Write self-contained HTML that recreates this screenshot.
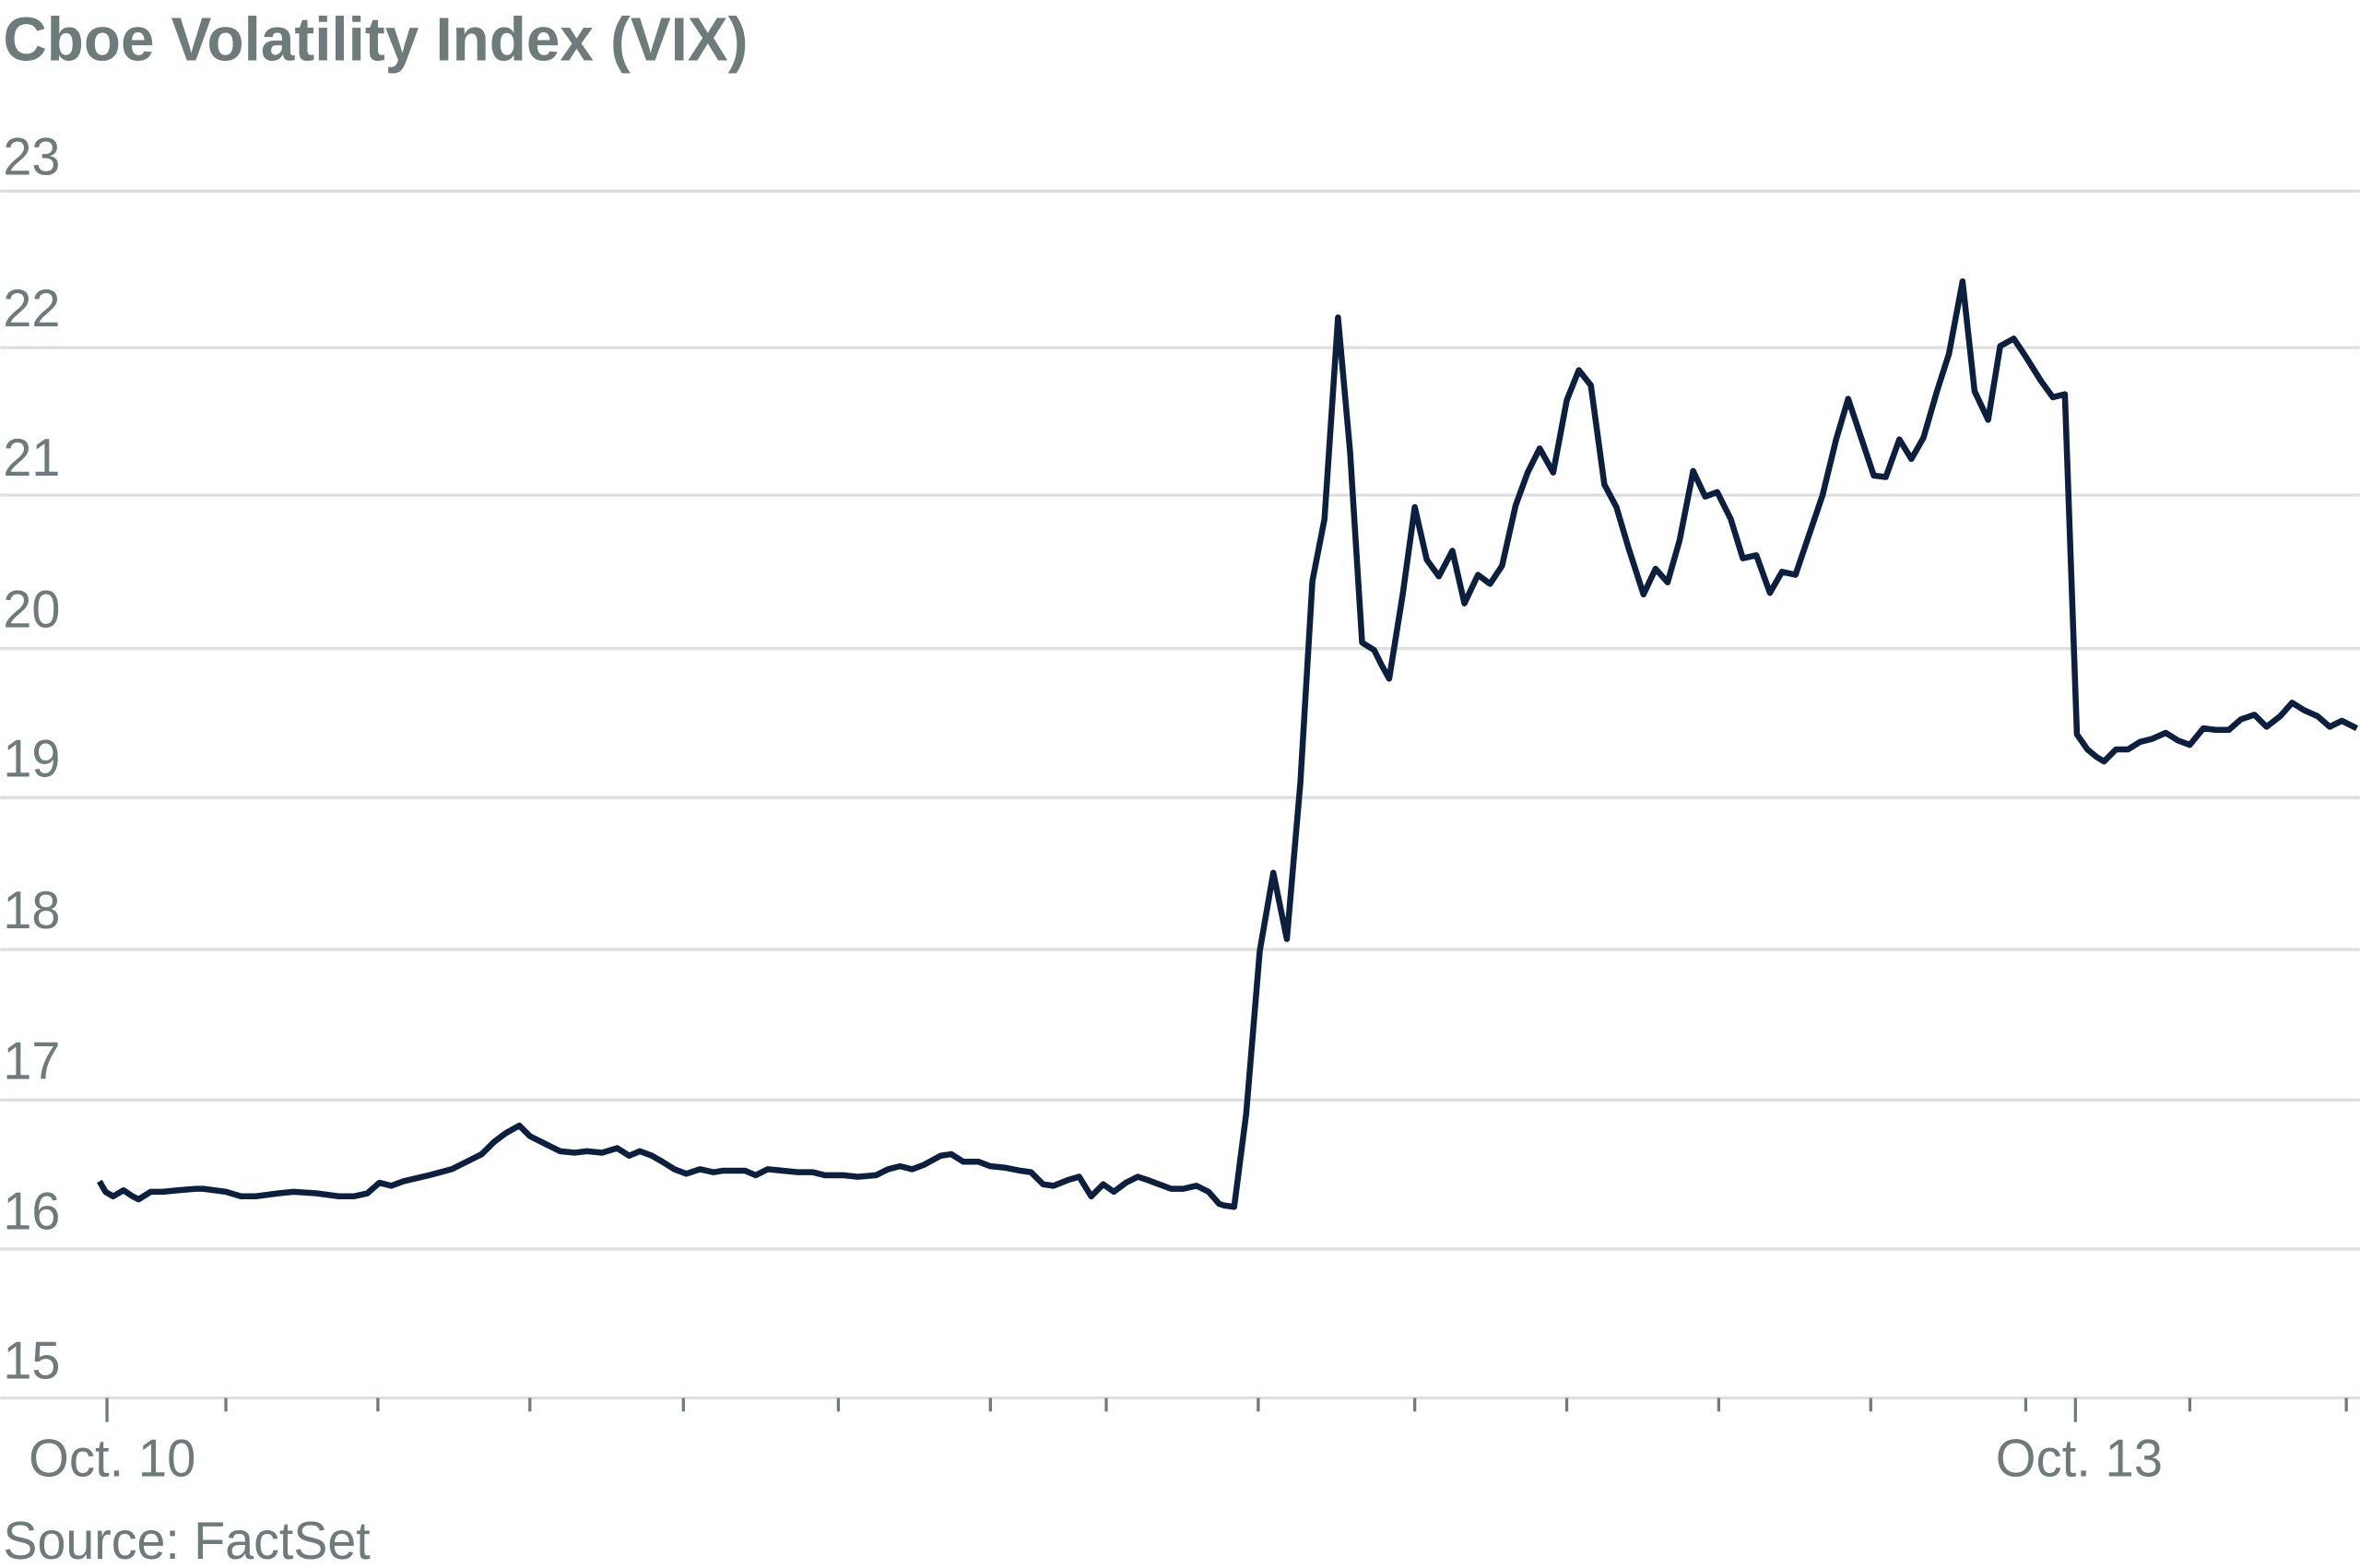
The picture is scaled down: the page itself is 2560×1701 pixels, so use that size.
<!DOCTYPE html>
<html><head><meta charset="utf-8"><style>html,body{margin:0;padding:0;background:#fff}svg{display:block}</style></head>
<body>
<svg width="2560" height="1701" viewBox="0 0 1568 1042" xmlns="http://www.w3.org/2000/svg" font-family="'Liberation Sans', sans-serif">
<text x="2" y="40" font-size="41" font-weight="bold" fill="#6e7b7b" textLength="495" lengthAdjust="spacingAndGlyphs">Cboe Volatility Index (VIX)</text>
<g stroke="#dedede" stroke-width="2">
<line x1="0" x2="1568" y1="127" y2="127"/><line x1="0" x2="1568" y1="231" y2="231"/><line x1="0" x2="1568" y1="329" y2="329"/><line x1="0" x2="1568" y1="431" y2="431"/><line x1="0" x2="1568" y1="530" y2="530"/><line x1="0" x2="1568" y1="631" y2="631"/><line x1="0" x2="1568" y1="731" y2="731"/><line x1="0" x2="1568" y1="830" y2="830"/><line x1="0" x2="1568" y1="929" y2="929"/>
</g>
<g font-size="35" fill="#6e7b7b">
<text x="2" y="116" textLength="38" lengthAdjust="spacingAndGlyphs">23</text>
<text x="2" y="217" textLength="38" lengthAdjust="spacingAndGlyphs">22</text>
<text x="2" y="316" textLength="38" lengthAdjust="spacingAndGlyphs">21</text>
<text x="2" y="417" textLength="38" lengthAdjust="spacingAndGlyphs">20</text>
<text x="2" y="516" textLength="38" lengthAdjust="spacingAndGlyphs">19</text>
<text x="2" y="617" textLength="38" lengthAdjust="spacingAndGlyphs">18</text>
<text x="2" y="717" textLength="38" lengthAdjust="spacingAndGlyphs">17</text>
<text x="2" y="817" textLength="38" lengthAdjust="spacingAndGlyphs">16</text>
<text x="2" y="916" textLength="38" lengthAdjust="spacingAndGlyphs">15</text>
<text x="19" y="981" textLength="111" lengthAdjust="spacingAndGlyphs">Oct. 10</text>
<text x="1326" y="981" textLength="111" lengthAdjust="spacingAndGlyphs">Oct. 13</text>
<text x="2" y="1036" textLength="244" lengthAdjust="spacingAndGlyphs">Source: FactSet</text>
</g>
<g stroke="#6e7b7b" stroke-width="2">
<line x1="71" x2="71" y1="929" y2="945"/><line x1="1379" x2="1379" y1="929" y2="945"/>
<line x1="150" x2="150" y1="929" y2="938"/><line x1="251" x2="251" y1="929" y2="938"/><line x1="352" x2="352" y1="929" y2="938"/><line x1="454" x2="454" y1="929" y2="938"/><line x1="557" x2="557" y1="929" y2="938"/><line x1="658" x2="658" y1="929" y2="938"/><line x1="735" x2="735" y1="929" y2="938"/><line x1="836" x2="836" y1="929" y2="938"/><line x1="940" x2="940" y1="929" y2="938"/><line x1="1041" x2="1041" y1="929" y2="938"/><line x1="1142" x2="1142" y1="929" y2="938"/><line x1="1243" x2="1243" y1="929" y2="938"/><line x1="1346" x2="1346" y1="929" y2="938"/><line x1="1455" x2="1455" y1="929" y2="938"/><line x1="1559" x2="1559" y1="929" y2="938"/>
</g>
<polyline fill="none" stroke="#0c1f3f" stroke-width="4" stroke-linejoin="round" points="66,785 70,792 75,795 82,791 88,795 92,797 100,792 108,792 118,791 130,790 135,790 150,792 160,795 170,795 185,793 195,792 210,793 225,795 235,795 244,793 252,786 260,788 268,785 285,781 300,777 310,772 320,767 328,759 336,753 345,748 352,755 362,760 372,765 382,766 390,765 400,766 410,763 418,768 425,765 433,768 440,772 448,777 456,780 465,777 474,779 480,778 495,778 502,781 510,777 520,778 530,779 540,779 548,781 560,781 570,782 582,781 590,777 598,775 606,777 614,774 625,768 632,767 640,772 650,772 658,775 668,776 678,778 685,779 693,787 700,788 710,784 717,782 725,795 733,787 740,792 748,786 756,782 762,784 770,787 778,790 786,790 795,788 803,792 810,800 813,801 820,802 828,740 837,632 846,580 855,624 864,520 872,386 880,345 889,211 897,300 905,427 913,432 918,442 923,451 932,395 940,337 948,372 956,383 965,366 973,401 982,382 990,388 998,376 1007,336 1015,314 1023,298 1032,314 1041,266 1049,246 1057,256 1066,322 1074,337 1082,364 1092,395 1100,378 1108,387 1116,359 1125,313 1133,330 1141,327 1150,345 1158,371 1167,369 1176,394 1184,380 1193,382 1211,329 1220,292 1228,265 1237,292 1245,316 1253,317 1262,292 1270,305 1278,291 1287,260 1295,235 1304,187 1312,260 1321,279 1329,230 1338,225 1346,237 1356,253 1364,264 1372,262 1380,488 1387,498 1393,503 1398,506 1406,498 1414,498 1422,493 1430,491 1439,487 1447,492 1455,495 1464,484 1472,485 1481,485 1489,478 1498,475 1506,483 1515,476 1523,467 1531,472 1540,476 1548,483 1556,479 1566,484"/>
</svg>
</body></html>
